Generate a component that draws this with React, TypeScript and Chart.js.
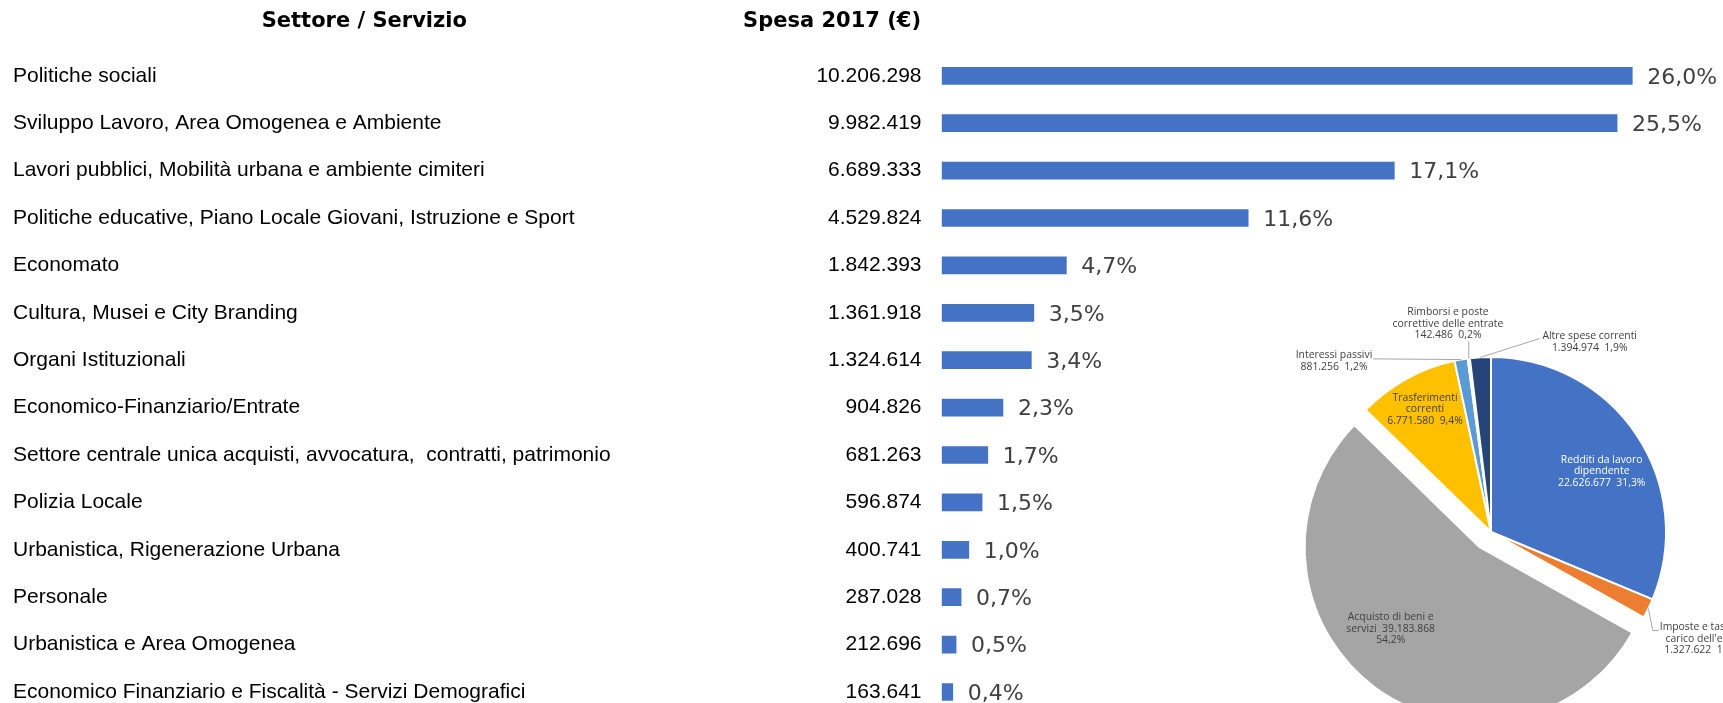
import { useEffect, useRef } from "react";
import { Chart, registerables } from "chart.js";

Chart.register(...registerables);

// ---------- Data: bar table ----------
const headers = ["Settore / Servizio", "Spesa 2017 (€)"];

const sectors = [
  "Politiche sociali",
  "Sviluppo Lavoro, Area Omogenea e Ambiente",
  "Lavori pubblici, Mobilità urbana e ambiente cimiteri",
  "Politiche educative, Piano Locale Giovani, Istruzione e Sport",
  "Economato",
  "Cultura, Musei e City Branding",
  "Organi Istituzionali",
  "Economico-Finanziario/Entrate",
  "Settore centrale unica acquisti, avvocatura,  contratti, patrimonio",
  "Polizia Locale",
  "Urbanistica, Rigenerazione Urbana",
  "Personale",
  "Urbanistica e Area Omogenea",
  "Economico Finanziario e Fiscalità - Servizi Demografici",
];

const spending = [
  10206298, 9982419, 6689333, 4529824, 1842393, 1361918, 1324614, 904826,
  681263, 596874, 400741, 287028, 212696, 163641,
];

const shareLabels = [
  "26,0%", "25,5%", "17,1%", "11,6%", "4,7%", "3,5%", "3,4%", "2,3%",
  "1,7%", "1,5%", "1,0%", "0,7%", "0,5%", "0,4%",
];

// ---------- Data: pie ----------
const expenseTypes = [
  "Redditi da lavoro dipendente",
  "Imposte e tasse a carico dell'ente",
  "Acquisto di beni e servizi",
  "Trasferimenti correnti",
  "Interessi passivi",
  "Rimborsi e poste correttive delle entrate",
  "Altre spese correnti",
];

const expenseValues = [22626677, 1327622, 39183868, 6771580, 881256, 142486, 1394974];

const expenseLabelLines = [
  ["Redditi da lavoro", "dipendente", "{v}  {p}"],
  ["Imposte e tasse a", "carico dell'ente", "{v}  {p}"],
  ["Acquisto di beni e", "servizi  {v}", "{p}"],
  ["Trasferimenti", "correnti", "{v}  {p}"],
  ["Interessi passivi", "{v}  {p}"],
  ["Rimborsi e poste", "correttive delle entrate", "{v}  {p}"],
  ["Altre spese correnti", "{v}  {p}"],
];

// ---------- Styles / layout ----------
const expenseColors = ["#4472C4", "#ED7D31", "#A5A5A5", "#FFC000", "#5B9BD5", "#70AD47", "#264478"];
const explodeIndex = 2;
const explodePx = 19;

// label block centre relative to pie centre, text colour, leader style
const pieLabelStyle = [
  { dx: 110.7, dy: -60.5, color: "#FFFFFF", leader: "" },
  { dx: 211, dy: 107, color: "#404040", leader: "leftElbow" },
  { dx: -100.3, dy: 96.8, color: "#404040", leader: "" },
  { dx: -66, dy: -122.6, color: "#404040", leader: "" },
  { dx: -157, dy: -171, color: "#404040", leader: "right" },
  { dx: -43, dy: -208.2, color: "#404040", leader: "below" },
  { dx: 98.7, dy: -190.2, color: "#404040", leader: "left" },
];

const W = 1723;
const H = 703;
const BAR_CANVAS_H = 740;
const X_MAX = 11000000;

const fmtIt = (n: number) => String(n).replace(/\B(?=(\d{3})+(?!\d))/g, ".");

export default function App() {
  const barRef = useRef<HTMLCanvasElement | null>(null);
  const pieRef = useRef<HTMLCanvasElement | null>(null);

  useEffect(() => {
    if (!barRef.current || !pieRef.current) return;

    const tablePlugin = {
      id: "tableText",
      afterDraw(chart: any) {
        const ctx = chart.ctx as CanvasRenderingContext2D;
        const xs = chart.scales.x;
        const ys = chart.scales.y;
        ctx.save();
        ctx.textBaseline = "middle";
        ctx.fillStyle = "#000000";
        ctx.font = "bold 21px 'DejaVu Sans'";
        ctx.textAlign = "center";
        ctx.fillText(headers[0], 364.3, 22);
        ctx.textAlign = "right";
        ctx.fillText(headers[1], 921, 22);

        sectors.forEach((name, i) => {
          const y = ys.getPixelForValue(i);
          ctx.font = "21px 'Liberation Sans', Arial, sans-serif";
          ctx.fillStyle = "#000000";
          ctx.textAlign = "left";
          ctx.fillText(name, 13, y);
          ctx.textAlign = "right";
          ctx.fillText(fmtIt(spending[i]), 921.5, y);
          ctx.font = "22px 'DejaVu Sans'";
          ctx.fillStyle = "#404040";
          ctx.textAlign = "left";
          ctx.fillText(shareLabels[i], xs.getPixelForValue(spending[i]) + 15, y + 2);
        });
        ctx.restore();
      },
    };

    const bar = new Chart(barRef.current, {
      type: "bar",
      data: {
        labels: sectors,
        datasets: [
          {
            data: spending,
            backgroundColor: "#4472C4",
            borderWidth: 0,
            barThickness: 17,
          },
        ],
      },
      options: {
        indexAxis: "y",
        responsive: false,
        animation: false,
        events: [],
        layout: {
          padding: { left: 941.7, right: W - (941.7 + 744.26), top: 52.1, bottom: BAR_CANVAS_H - 715.7 },
        },
        scales: {
          x: { type: "linear", min: 0, max: X_MAX, display: false },
          y: { type: "category", display: false },
        },
        plugins: { legend: { display: false }, tooltip: { enabled: false } },
      },
      plugins: [tablePlugin],
    } as any);

    const total = expenseValues.reduce((a, b) => a + b, 0);
    const PIE_FONT = "10.4px 'Open Sans'";
    const LH = 11.5;

    const explodePlugin = {
      id: "explode",
      afterDatasetsUpdate(chart: any) {
        const arc = chart.getDatasetMeta(0).data[explodeIndex];
        if (!arc) return;
        const mid = (arc.startAngle + arc.endAngle) / 2;
        arc.x += Math.cos(mid) * explodePx;
        arc.y += Math.sin(mid) * explodePx;
      },
    };

    const pieLabelPlugin = {
      id: "pieLabels",
      afterDatasetsDraw(chart: any) {
        const ctx = chart.ctx as CanvasRenderingContext2D;
        const area = chart.chartArea;
        const cx = (area.left + area.right) / 2;
        const cy = (area.top + area.bottom) / 2;
        const meta = chart.getDatasetMeta(0);
        ctx.save();
        ctx.font = PIE_FONT;
        ctx.textAlign = "center";
        ctx.textBaseline = "middle";
        meta.data.forEach((arc: any, i: number) => {
          const st = pieLabelStyle[i];
          const v = expenseValues[i];
          const pct = ((v / total) * 100).toFixed(1).replace(".", ",") + "%";
          const lines = expenseLabelLines[i].map((l) => l.replace("{v}", fmtIt(v)).replace("{p}", pct));
          const n = lines.length;
          const bx = cx + st.dx;
          const by = cy + st.dy;
          const ys = lines.map((_, k) => by + (k - (n - 1) / 2) * LH);
          if (st.leader) {
            const mid = (arc.startAngle + arc.endAngle) / 2;
            const ax = arc.x + Math.cos(mid) * arc.outerRadius;
            const ay = arc.y + Math.sin(mid) * arc.outerRadius;
            const w0 = ctx.measureText(lines[0]).width;
            let pts: [number, number][] = [];
            if (st.leader === "left") pts = [[ax, ay], [bx - w0 / 2 - 3, ys[0] + 2.6]];
            else if (st.leader === "leftElbow")
              pts = [[ax, ay], [bx - w0 / 2 - 7, ys[0] + 3], [bx - w0 / 2 - 1, ys[0] + 3]];
            else if (st.leader === "right") pts = [[ax, ay], [bx + w0 / 2 + 1, ys[0] + 3.6]];
            else if (st.leader === "below") pts = [[ax, ay], [ax, ys[n - 1] + 6]];
            ctx.strokeStyle = "#A6A6A6";
            ctx.lineWidth = 1;
            ctx.beginPath();
            pts.forEach(([px, py], k) => (k === 0 ? ctx.moveTo(px, py) : ctx.lineTo(px, py)));
            ctx.stroke();
          }
          ctx.fillStyle = st.color;
          lines.forEach((l, k) => ctx.fillText(l, bx, ys[k]));
        });
        ctx.restore();
      },
    };

    const pie = new Chart(pieRef.current, {
      type: "pie",
      data: {
        labels: expenseTypes,
        datasets: [
          {
            data: expenseValues,
            backgroundColor: expenseColors,
            borderColor: "#FFFFFF",
            borderWidth: 2,
          },
        ],
      },
      options: {
        responsive: false,
        animation: false,
        events: [],
        radius: 175,
        layout: { padding: 0 },
        plugins: { legend: { display: false }, tooltip: { enabled: false } },
      },
      plugins: [explodePlugin, pieLabelPlugin],
    } as any);

    return () => {
      bar.destroy();
      pie.destroy();
    };
  }, []);

  return (
    <div
      style={{
        position: "fixed",
        left: 0,
        top: 0,
        width: W,
        height: H,
        overflow: "hidden",
        background: "#FFFFFF",
      }}
    >
      <canvas ref={barRef} width={W} height={BAR_CANVAS_H} style={{ position: "absolute", left: 0, top: 0 }} />
      <canvas ref={pieRef} width={640} height={640} style={{ position: "absolute", left: 1171, top: 212 }} />
    </div>
  );
}
